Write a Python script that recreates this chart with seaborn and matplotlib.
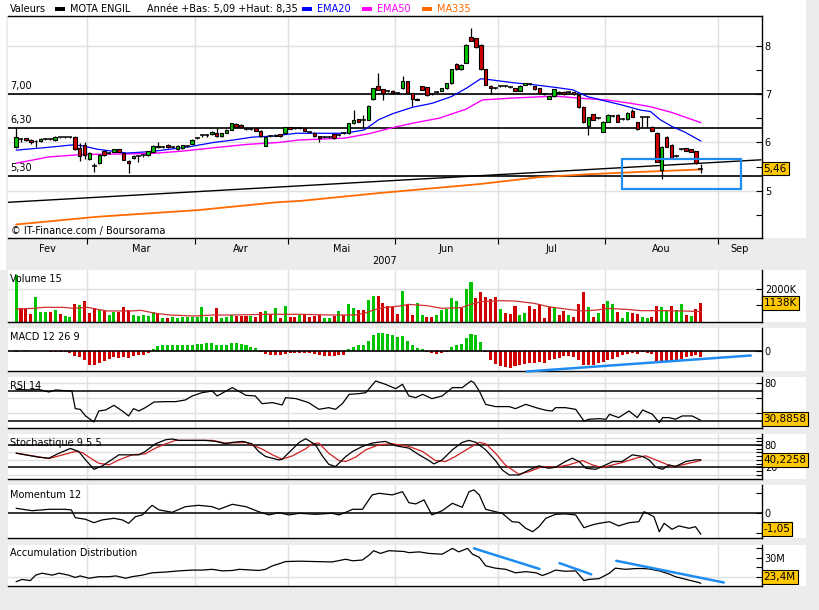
import numpy as np
import pandas as pd
import seaborn as sns
import matplotlib.pyplot as plt
from matplotlib.patches import Rectangle

# ---- values (MOTA ENGIL, daily, 8 Feb - 28 Aug 2007) ----
opens = [5.90, 6.07, 6.09, 6.05, 6.02, 6.02, 6.08, 6.07, 6.05, 6.11,
         6.11, 6.11, 6.12, 5.88, 5.95, 5.65, 5.51, 5.57, 5.82, 5.79,
         5.81, 5.86, 5.79, 5.62, 5.67, 5.71, 5.73, 5.73, 5.81, 5.93,
         5.91, 5.95, 5.90, 5.86, 5.88, 5.93, 5.97, 6.09, 6.15, 6.15,
         6.17, 6.19, 6.13, 6.20, 6.26, 6.38, 6.37, 6.27, 6.27, 6.29,
         6.24, 5.93, 6.14, 6.14, 6.17, 6.19, 6.31, 6.29, 6.29, 6.29,
         6.22, 6.20, 6.13, 6.12, 6.12, 6.17, 6.15, 6.19, 6.19, 6.40,
         6.48, 6.47, 6.47, 6.89, 7.17, 7.10, 7.07, 7.07, 7.02, 7.12,
         7.27, 7.02, 6.88, 7.16, 7.14, 7.00, 7.05, 7.07, 7.12, 7.23,
         7.63, 7.52, 7.65, 8.18, 8.16, 8.02, 7.52, 7.17, 7.12, 7.16,
         7.16, 7.14, 7.12, 7.07, 7.19, 7.21, 7.16, 7.12, 7.00, 6.91,
         6.96, 7.05, 7.05, 7.04, 7.04, 6.98, 6.74, 6.34, 6.58, 6.51,
         6.22, 6.43, 6.55, 6.57, 6.48, 6.48, 6.65, 6.42, 6.52, 6.52,
         6.33, 6.20, 5.43, 6.12, 5.95, 5.72, 5.86, 5.88, 5.86, 5.82,
         5.46]
highs = [6.31, 6.10, 6.10, 6.07, 6.05, 6.09, 6.10, 6.09, 6.13, 6.12,
         6.12, 6.12, 6.13, 5.98, 6.01, 5.80, 5.58, 5.77, 5.84, 5.81,
         5.87, 5.87, 5.80, 5.63, 5.73, 5.74, 5.75, 5.83, 5.94, 6.00,
         5.93, 5.96, 5.92, 5.94, 5.95, 5.95, 6.07, 6.11, 6.17, 6.17,
         6.23, 6.29, 6.20, 6.27, 6.41, 6.40, 6.38, 6.29, 6.29, 6.30,
         6.25, 6.13, 6.16, 6.17, 6.18, 6.32, 6.33, 6.31, 6.31, 6.30,
         6.24, 6.21, 6.14, 6.14, 6.14, 6.18, 6.17, 6.21, 6.41, 6.67,
         6.49, 6.57, 6.77, 7.13, 7.43, 7.11, 7.09, 7.08, 7.04, 7.38,
         7.28, 7.03, 6.93, 7.17, 7.15, 7.02, 7.07, 7.13, 7.24, 7.53,
         7.64, 7.62, 8.03, 8.37, 8.17, 8.03, 7.53, 7.18, 7.14, 7.18,
         7.18, 7.16, 7.13, 7.18, 7.24, 7.23, 7.17, 7.13, 7.02, 6.97,
         7.11, 7.06, 7.06, 7.06, 7.05, 6.99, 6.75, 6.53, 6.59, 6.53,
         6.44, 6.58, 6.57, 6.58, 6.50, 6.63, 6.70, 6.43, 6.55, 6.54,
         6.34, 6.21, 5.92, 6.13, 5.96, 5.74, 5.88, 5.89, 5.87, 5.83,
         5.55]
lows = [5.89, 6.01, 6.03, 5.97, 5.91, 6.00, 6.06, 6.05, 6.04, 6.10,
        6.10, 6.10, 5.84, 5.61, 5.65, 5.64, 5.39, 5.55, 5.72, 5.77,
        5.80, 5.80, 5.63, 5.36, 5.66, 5.60, 5.70, 5.72, 5.80, 5.89,
        5.89, 5.89, 5.88, 5.85, 5.87, 5.91, 5.96, 6.07, 6.12, 6.12,
        6.16, 6.11, 6.12, 6.19, 6.25, 6.32, 6.30, 6.25, 6.25, 6.23,
        6.12, 5.92, 6.12, 6.13, 6.12, 6.18, 6.27, 6.27, 6.27, 6.23,
        6.20, 6.12, 6.00, 6.10, 6.10, 6.08, 6.13, 6.17, 6.18, 6.39,
        6.42, 6.33, 6.46, 6.88, 7.08, 6.88, 7.05, 7.01, 7.00, 7.11,
        7.01, 6.76, 6.87, 7.08, 6.97, 6.98, 7.03, 7.06, 7.11, 7.22,
        7.51, 7.51, 7.64, 8.10, 7.96, 7.51, 7.18, 7.00, 7.10, 7.14,
        7.14, 7.12, 7.06, 7.06, 7.18, 7.19, 7.09, 7.01, 6.98, 6.90,
        6.95, 7.01, 6.99, 7.02, 6.99, 6.72, 6.41, 6.15, 6.46, 6.49,
        6.21, 6.42, 6.53, 6.42, 6.46, 6.47, 6.52, 6.26, 6.33, 6.33,
        6.23, 5.59, 5.24, 5.90, 5.66, 5.70, 5.84, 5.82, 5.80, 5.56,
        5.36]
closes = [6.11, 6.07, 6.05, 6.01, 6.03, 6.07, 6.08, 6.07, 6.12, 6.11,
          6.11, 6.11, 5.86, 5.71, 5.74, 5.78, 5.51, 5.75, 5.74, 5.79,
          5.86, 5.81, 5.64, 5.57, 5.72, 5.71, 5.73, 5.82, 5.93, 5.90,
          5.91, 5.90, 5.90, 5.93, 5.94, 5.93, 6.06, 6.09, 6.15, 6.15,
          6.22, 6.13, 6.19, 6.26, 6.40, 6.33, 6.31, 6.27, 6.27, 6.24,
          6.13, 6.12, 6.14, 6.16, 6.13, 6.31, 6.28, 6.29, 6.29, 6.24,
          6.22, 6.13, 6.09, 6.12, 6.12, 6.09, 6.15, 6.19, 6.40, 6.47,
          6.43, 6.47, 6.76, 7.12, 7.09, 7.02, 7.07, 7.02, 7.02, 7.27,
          7.02, 6.91, 6.91, 7.09, 6.98, 7.00, 7.05, 7.12, 7.23, 7.52,
          7.52, 7.61, 8.02, 8.11, 7.97, 7.52, 7.19, 7.12, 7.12, 7.16,
          7.16, 7.14, 7.07, 7.17, 7.23, 7.21, 7.10, 7.02, 7.00, 6.96,
          7.10, 7.02, 7.00, 7.04, 7.00, 6.73, 6.42, 6.52, 6.47, 6.51,
          6.43, 6.57, 6.55, 6.43, 6.48, 6.62, 6.53, 6.27, 6.52, 6.52,
          6.24, 5.60, 5.91, 5.91, 5.67, 5.72, 5.86, 5.83, 5.81, 5.57,
          5.46]

volume_k = [2870, 828, 768, 465, 1495, 586, 586, 586, 727, 465,
            384, 283, 1070, 1030, 1273, 525, 828, 727, 667, 424,
            626, 586, 889, 727, 424, 384, 424, 364, 586, 465,
            263, 263, 283, 263, 283, 323, 323, 323, 929, 323,
            323, 869, 263, 323, 424, 384, 384, 384, 384, 323,
            586, 667, 485, 828, 222, 970, 283, 283, 424, 424,
            283, 384, 424, 263, 263, 384, 667, 424, 1070, 869,
            727, 727, 1333, 1575, 1575, 1131, 970, 889, 485, 1879,
            1070, 424, 1172, 424, 283, 283, 424, 727, 788, 1475,
            1273, 869, 2000, 2404, 1475, 1798, 1495, 1374, 1495, 788,
            525, 465, 970, 424, 525, 970, 768, 1070, 263, 929,
            929, 424, 667, 424, 323, 1070, 1838, 889, 323, 525,
            1070, 1273, 1070, 586, 263, 586, 525, 465, 283, 263,
            323, 970, 889, 727, 970, 727, 1070, 424, 384, 768,
            1138]
volume_dir = ("grrrgggrgr" "ggrgrrrgrg" "grrrgggggr" "grgggggggg"
              "grgggrrrgr" "rgrgrgrrgr" "rrrggrgrgg" "rrggrrrrrg"
              "rrggrrggg" "ggrggrrrrr" "grrrggrrrr" "rgrrgrrrgr"
              "grggrggrrg" "grrggrggrg" "rr")
vol_ma_x = [0, 3.7, 5.7, 9.7, 11.6, 14.6, 16.6, 18.6, 23.5, 25.5, 28.5, 31.5, 36.4, 40.4,
            44.4, 51.3, 58.3, 64.2, 69.2, 71.2, 73.1, 75.1, 79.1, 80.1, 84.0, 87.0, 91.0,
            93.0, 95.0, 98.9, 101.9, 105.9, 108.8, 112.8, 115.8, 118.8, 120.8, 124.7,
            127.7, 132.7, 136.6, 140]
vol_ma_y = [788, 828, 889, 889, 828, 889, 768, 667, 667, 707, 525, 424, 364, 424,
            424, 465, 465, 424, 424, 525, 727, 869, 990, 1070, 990, 828, 869,
            1070, 1232, 1293, 1273, 1131, 929, 768, 667, 727, 828, 768,
            687, 687, 667, 626]

macd_hist = [-1, 0, 1.3, 0, 0, 0, 0, -1, -1, -1,
             -1, -2, -5, -6, -9.3, -13.7, -14.3, -11.7, -10.3, -7.7,
             -6, -6.7, -6, -7, -5, -4.3, -3.7, -1.7, 2.3, 4.7,
             5.7, 5.7, 5.7, 5.7, 5.7, 5.7, 6.3, 6.7, 7.3, 8,
             8, 6.3, 6.3, 6.3, 8.3, 8.3, 7.3, 5.7, 4, 3.3,
             -1, -2.7, -3.7, -3.7, -4.3, -2.7, -1.7, -1.7, -1.7, -1.7,
             -2, -2.7, -4.3, -5, -5, -5, -4.3, -3.7, 1.7, 4,
             5.7, 5.7, 9.7, 15.7, 18.3, 18.3, 17.3, 15.7, 14, 15,
             9.7, 5.7, 3, 1.7, -1, -1.7, -2.7, -1.7, -1, 4,
             5.7, 7.3, 13, 16.7, 15.7, 9, -1, -8.7, -13.3, -15,
             -16, -17, -15, -13.7, -12.7, -11.7, -11.7, -11, -11.7, -9.3,
             -7.7, -6.7, -5, -5, -6, -9.3, -13.7, -14.3, -14.3, -12,
             -11, -8.7, -7.7, -6, -4.3, -2.7, -1.7, -2.7, -1, -1.7,
             -2.7, -10, -11, -11, -11, -9.3, -7.7, -6, -5, -4.3,
             -6]

ema20_x = [0, 6.7, 11.6, 13.6, 16.6, 22.6, 27.5, 31.5, 35.4, 40.4, 44.4, 48.3, 52.3, 57.3,
           60.2, 67.2, 71.2, 74.1, 77.1, 81.1, 85.0, 89.0, 92.0, 95.0, 96.9, 101.4, 105.5,
           110.3, 113.8, 116.8, 120.8, 123.7, 127.7, 129.7, 131.7, 134.1, 136.6, 140]
ema20_y = [5.84, 5.90, 5.95, 5.93, 5.86, 5.78, 5.81, 5.86, 5.91, 6.00, 6.05, 6.11, 6.13, 6.19,
           6.19, 6.19, 6.26, 6.47, 6.60, 6.73, 6.81, 6.95, 7.12, 7.32, 7.30, 7.24, 7.20,
           7.14, 7.09, 6.95, 6.85, 6.78, 6.67, 6.64, 6.47, 6.33, 6.22, 6.03]
ema50_x = [0, 6.7, 13.6, 20.6, 27.5, 34.0, 40.4, 47.3, 53.7, 57.8, 67.2, 72.1, 77.1, 81.1,
           86.4, 92.0, 95.3, 101.4, 110.3, 114.8, 120.8, 125.7, 129.7, 134.1, 140]
ema50_y = [5.57, 5.70, 5.75, 5.76, 5.77, 5.82, 5.89, 5.96, 6.00, 6.05, 6.09, 6.18, 6.31, 6.40,
           6.50, 6.69, 6.88, 6.92, 6.96, 6.92, 6.88, 6.81, 6.74, 6.62, 6.41]
ma335_x = [0, 16.6, 37.4, 53.3, 58.3, 74.1, 95.0, 106.9, 116.8, 127.7, 140]
ma335_y = [4.30, 4.46, 4.60, 4.76, 4.79, 4.95, 5.14, 5.28, 5.34, 5.39, 5.44]

trend_x = [-1.6, 152.3]
trend_y = [4.76, 5.64]
levels = [7.00, 6.30, 5.30]
level_labels = ['7,00', '6,30', '5,30']
box_x = [123.8, 148.2]
box_y = [5.035, 5.66]

rsi_x = [0, 2.6, 4.6, 6.7, 8.1, 10.7, 11.4, 12.1, 13.1, 14.2, 15.9, 16.9, 18.3, 20.0, 21.7,
         23.0, 24.0, 25.1, 26.4, 28.2, 30.6, 32.6, 34.6, 36.0, 38.0, 40.1, 41.1, 44.2, 47.0,
         48.9, 50.3, 52.4, 54.4, 55.1, 57.2, 59.8, 61.9, 63.9, 65.3, 66.7, 68.1, 70.1, 71.5,
         73.5, 75.5, 77.6, 79.0, 80.3, 81.7, 83.1, 85.0, 87.1, 89.2, 91.2, 93.0, 93.6, 94.7,
         96.0, 98.0, 100.8, 102.1, 104.2, 106.3, 108.3, 109.6, 110.3, 112.3, 114.4, 116.1,
         117.1, 119.2, 120.6, 121.3, 123.2, 125.3, 127.0, 128.1, 130.1, 131.5, 132.2, 133.5,
         134.8, 136.2, 138.2, 140]
rsi_y = [72.0, 71.2, 72.0, 68.5, 71.2, 69.8, 69.8, 46.4, 45.5, 36.7, 28.7, 43.3, 44.6, 50.8, 43.3,
         36.7, 46.4, 43.3, 47.7, 55.2, 55.7, 55.7, 57.9, 63.2, 67.6, 69.8, 63.2, 74.3, 64.1,
         63.2, 53.0, 54.4, 51.3, 61.0, 59.7, 54.4, 45.5, 47.7, 45.5, 53.0, 65.4, 66.3, 67.6,
         83.1, 78.7, 72.9, 78.7, 63.2, 61.0, 65.4, 59.7, 63.2, 74.3, 74.3, 83.1, 80.9, 69.8,
         52.1, 49.1, 49.1, 46.4, 52.1, 47.7, 44.2, 43.3, 47.7, 47.7, 45.5, 30.0,
         32.3, 33.1, 32.3, 38.9, 34.5, 43.3, 34.5, 44.6, 38.9, 27.8, 34.5, 34.5,
         32.3, 36.7, 36.7, 30.9]

stoch_k_x = [0, 1.9, 4.6, 6.7, 8.8, 11.1, 12.8, 14.2, 15.9, 17.6, 19.7, 21.0, 23.0, 25.1, 26.4,
             28.5, 30.6, 31.9, 33.3, 36.0, 38.7, 40.8, 42.8, 44.2, 46.3, 48.2, 49.6, 51.0, 53.7,
             54.4, 55.8, 57.9, 59.2, 61.2, 62.6, 63.9, 65.3, 67.4, 68.8, 70.8, 72.8, 75.5, 77.6,
             80.3, 82.4, 84.4, 85.4, 87.1, 89.2, 91.2, 92.6, 94.0, 96.0, 98.0, 99.4, 100.8,
             102.8, 104.9, 106.9, 108.9, 110.3, 112.3, 113.7, 115.1, 116.5, 118.5, 119.8, 122.0,
             123.9, 126.0, 128.1, 129.4, 130.8, 132.2, 133.5, 134.8, 136.9, 138.9, 140]
stoch_k_y = [58.2, 53.6, 47.3, 44.5, 58.2, 70.9, 62.7, 40.0, 14.5, 23.6, 41.8, 53.6, 53.6, 53.6, 62.7,
             83.6, 94.5, 96.4, 92.7, 92.7, 92.7, 90.0, 83.6, 87.3, 90.0, 83.6, 62.7, 49.1, 40.0,
             41.8, 60.0, 87.3, 97.3, 80.9, 50.9, 28.2, 21.8, 49.1, 62.7, 76.4, 85.5, 90.0, 78.2,
             71.8, 53.6, 38.2, 29.1, 40.0, 67.3, 87.3, 92.7, 87.3, 67.3, 38.2, 12.7, -0.9,
             -0.9, 12.7, 23.6, 17.3, 20.0, 35.5, 44.5, 35.5, 17.3, 14.5, 21.8, 35.5,
             35.5, 53.6, 49.1, 40.0, 20.0, 14.5, 26.4, 21.8, 35.5, 40.0, 40.2]
stoch_d_x = [0, 3.3, 6.7, 8.8, 12.1, 13.5, 14.9, 16.9, 19.0, 21.0, 23.7, 26.4, 28.5, 30.6, 32.6,
             37.3, 40.1, 42.8, 47.0, 50.3, 52.4, 54.4, 56.5, 59.2, 60.5, 61.9, 63.9, 66.0, 67.4,
             69.4, 71.5, 74.2, 76.9, 80.3, 83.1, 85.7, 87.8, 89.8, 92.6, 94.7, 96.0, 98.0, 100.0,
             102.8, 104.9, 107.6, 110.3, 113.0, 115.8, 117.8, 119.8, 122.0, 123.9, 126.7, 128.7,
             130.8, 134.1, 136.2, 138.2, 140]
stoch_d_y = [58.2, 50.9, 43.6, 50.9, 62.7, 60.0, 47.3, 30.9, 26.4, 40.0, 53.6, 56.4, 71.8, 83.6, 92.7,
             92.7, 92.7, 85.5, 87.3, 69.1, 53.6, 41.8, 50.9, 70.0, 83.6, 85.5, 58.2, 38.2, 35.5,
             47.3, 67.3, 80.9, 83.6, 76.4, 62.7, 38.2, 35.5, 49.1, 71.8, 87.3, 83.6, 58.2, 26.4,
             0.9, 8.2, 21.8, 20.0, 26.4, 38.2, 26.4, 19.1, 26.4, 32.7, 44.5, 50.9,
             40.0, 21.8, 26.4, 32.7, 38.2]

mom_x = [0, 3.3, 6.7, 10.0, 11.3, 12.1, 14.2, 15.9, 17.6, 20.0, 21.7, 23.0, 24.4, 25.8, 27.8,
         29.2, 31.9, 34.6, 37.3, 40.1, 41.5, 44.2, 47.0, 49.6, 51.7, 53.7, 55.8, 57.9, 61.2,
         64.6, 66.0, 67.4, 68.8, 70.8, 72.8, 74.2, 76.9, 79.0, 80.3, 81.7, 83.4, 85.0, 87.1,
         89.2, 91.2, 92.6, 93.6, 94.7, 96.0, 98.0, 99.4, 101.4, 102.8, 104.2, 105.6, 106.9,
         108.3, 110.3, 112.3, 114.4, 116.1, 117.8, 119.2, 121.3, 123.2, 125.3, 127.3, 128.4,
         130.4, 131.5, 132.5, 134.1, 135.5, 137.6, 138.9, 140]
mom_y = [0.25, 0.13, 0.20, 0.20, 0.17, -0.22, -0.30, -0.47, -0.33, -0.25, -0.33, -0.50, -0.17, -0.08, 0.40,
         0.17, 0.05, 0.33, 0.40, 0.33, 0.20, 0.45, 0.33, 0.08, -0.08, 0.03, -0.08, 0.0, -0.05,
         0.0, -0.08, 0.05, 0.20, 0.20, 0.92, 1.0, 0.92, 1.08, 0.53, 0.47, 0.67, -0.08, 0.13,
         0.50, 0.30, 1.08, 1.17, 0.92, 0.20, 0.08, 0.0, -0.42, -0.45, -0.75, -0.92, -0.67,
         -0.25, -0.05, -0.03, -0.08, -0.72, -0.58, -0.50, -0.42, -0.63, -0.47, -0.42, 0.08,
         -0.17, -0.92, -0.50, -0.80, -0.63, -0.75, -0.67, -1.05]

ad_x = [0, 1.2, 2.9, 4.0, 5.3, 7.4, 8.8, 10.7, 12.1, 13.1, 14.9, 16.9, 19.0, 20.4, 22.4, 23.7,
        25.8, 27.8, 30.6, 33.3, 36.0, 38.0, 40.1, 42.1, 44.2, 45.6, 49.6, 51.0, 52.4, 53.7,
        55.1, 57.9, 61.2, 64.6, 67.4, 68.8, 70.8, 72.2, 73.1, 74.5, 76.2, 79.3, 80.3, 82.4,
        84.4, 87.1, 89.2, 90.5, 92.3, 93.3, 94.7, 96.0, 98.0, 100.1, 102.1, 104.2, 106.3,
        107.6, 108.9, 110.3, 112.3, 114.4, 116.1, 117.1, 119.2, 121.3, 122.5, 124.6, 126.7,
        128.1, 129.4, 131.5, 133.5, 134.8, 137.6, 139.6, 140]
ad_y = [23.8, 24.4, 24.1, 25.5, 26.0, 25.5, 26.0, 25.5, 24.9, 25.3, 24.7, 25.1, 25.1, 25.3, 24.7, 25.1,
        25.5, 26.1, 26.3, 26.6, 26.8, 26.8, 27.0, 26.6, 26.7, 27.0, 26.7, 27.0, 27.9, 28.4,
        29.0, 29.1, 29.0, 28.9, 29.6, 29.2, 29.4, 30.7, 31.8, 31.1, 31.8, 31.6, 31.3, 31.5,
        31.1, 30.9, 32.4, 31.5, 32.4, 30.9, 30.1, 27.9, 27.3, 27.0, 26.1, 26.4, 26.1,
        25.4, 26.0, 26.8, 26.5, 26.6, 24.1, 24.4, 24.6, 26.0, 27.3, 27.0, 27.2,
        27.2, 27.1, 26.6, 25.8, 25.1, 24.2, 23.6, 23.4]

macd_trend_x = [104.4, 150.2]
macd_trend_y = [-20.5, -4.5]
ad_trend_x = [[93.6, 107.0], [111.1, 117.6], [122.7, 144.7]]
ad_trend_y = [[32.4, 27.1], [28.6, 25.7], [29.2, 23.6]]

month_names = ['Fev', 'Mar', 'Avr', 'Mai', 'Jun', 'Jul', 'Aou', 'Sep']
holidays = ['2007-04-06', '2007-04-09', '2007-05-01']

# ---- trading calendar -> month separators ----
days = pd.bdate_range('2007-02-08', '2007-09-28')
days = days[~days.isin(pd.to_datetime(holidays))]
XLIM = (-1.66, 152.5)
mon = np.asarray(days.month)
month_edges = [i + 0.5 for i in np.where(mon[1:] != mon[:-1])[0] if i + 0.5 < XLIM[1]]
bounds = [XLIM[0]] + month_edges + [XLIM[1]]
month_mid = [(a + b) / 2 for a, b in zip(bounds[:-1], bounds[1:])]

GREEN = '#00c400'
RED = '#d00000'
GRID = '#e0e0e0'
BLUE_MARK = '#1e8cf0'

sns.set_style('white', {'axes.edgecolor': 'black', 'xtick.color': 'black',
                        'ytick.color': 'black', 'text.color': 'black',
                        'axes.labelcolor': 'black'})
plt.rcParams['font.family'] = ['DejaVu Sans']

W, H = 819, 610
fig = plt.figure(figsize=(W / 100, H / 100), dpi=100, facecolor='#ececec')


def white_box(x0, y0, x1, y1):
    fig.add_artist(Rectangle((x0 / W, 1 - y1 / H), (x1 - x0) / W, (y1 - y0) / H,
                             transform=fig.transFigure, facecolor='white',
                             edgecolor='none', zorder=-5))


white_box(0, 0, 806, 16)
white_box(0, 0, 6, 270)


def panel(top, bottom):
    white_box(762, top, 806, bottom)
    return fig.add_axes([8 / W, 1 - bottom / H, 754 / W, (bottom - top) / H])


def style(ax, ylim, top_spine=False):
    ax.set_facecolor('white')
    ax.set_xlim(XLIM)
    ax.set_ylim(ylim)
    ax.spines['left'].set_visible(False)
    ax.spines['top'].set_visible(top_spine)
    for s in ['right', 'bottom', 'top']:
        ax.spines[s].set_color('black')
        ax.spines[s].set_linewidth(1.0)
    for e in month_edges:
        ax.axvline(e, color=GRID, lw=1, zorder=0)
    ax.yaxis.tick_right()
    ax.tick_params(axis='y', which='both', direction='in', length=4, width=0.8,
                   labelsize=7, pad=2, right=True, left=False)
    ax.tick_params(axis='x', which='both', bottom=False, labelbottom=False)


def finish(ax):
    ax.set_xlabel('')
    ax.set_ylabel('')


def value_box(ax, val, text, margin_px=9):
    lo, hi = ax.get_ylim()
    h_px = ax.get_position().height * H
    m = margin_px * (hi - lo) / h_px
    y = min(max(val, lo + m), hi - m)
    ax.text(1.002, y, text, transform=ax.get_yaxis_transform(), ha='left', va='center',
            fontsize=7.5, zorder=10, clip_on=False,
            bbox=dict(boxstyle='square,pad=0.18', fc='#ffc800', ec='black', lw=0.8))


def line(ax, xs, ys, color, lw=0.9, z=3):
    sns.lineplot(x=xs, y=ys, ax=ax, color=color, linewidth=lw, estimator=None,
                 errorbar=None, legend=False, zorder=z)


# ---- main price panel ----
ax = panel(16, 238)
style(ax, (4.02, 8.62), top_spine=True)
for g in [5, 6, 7, 8]:
    ax.axhline(g, color=GRID, lw=1, zorder=0)
for lv in levels:
    ax.axhline(lv, color='black', lw=1.2, zorder=1)
line(ax, trend_x, trend_y, 'black', lw=1.0, z=2)
line(ax, ma335_x, ma335_y, '#ff6a00', lw=1.3, z=2)
line(ax, ema50_x, ema50_y, '#ff00ff', lw=1.0, z=2)
line(ax, ema20_x, ema20_y, '#0000ff', lw=0.9, z=2)

xi = np.arange(len(closes))
o, h, l, c = (np.array(v) for v in (opens, highs, lows, closes))
up = c > o + 0.004
dn = c < o - 0.004
flat = ~(up | dn)
ax.vlines(xi, l, h, color='black', lw=0.9, zorder=4)
ax.bar(xi[up], (c - o)[up], bottom=o[up], width=0.72, color=GREEN,
       edgecolor='black', linewidth=0.8, zorder=5)
ax.bar(xi[dn], (o - c)[dn], bottom=c[dn], width=0.72, color=RED,
       edgecolor='black', linewidth=0.8, zorder=5)
ax.hlines(c[flat], xi[flat] - 0.5, xi[flat] + 0.5, color='black', lw=1.1, zorder=5)
ax.add_patch(Rectangle((box_x[0], box_y[0]), box_x[1] - box_x[0], box_y[1] - box_y[0],
                       fill=False, edgecolor=BLUE_MARK, lw=1.6, zorder=6))
finish(ax)
ax.set_yticks([5, 6, 7, 8])
ax.set_yticklabels(['5', '6', '7', '8'])
ax.set_yticks([4.5, 5.5, 6.5, 7.5], minor=True)
ax.set_xticks(month_edges)
ax.set_xticklabels([''] * len(month_edges))
ax.set_xticks(month_mid, minor=True)
ax.set_xticklabels(month_names, minor=True)
ax.tick_params(axis='x', which='major', bottom=True, direction='out', length=4, width=0.8)
ax.tick_params(axis='x', which='minor', bottom=False, labelbottom=True, length=0, pad=4,
               labelsize=7)
for lv, lab in zip(levels, level_labels):
    ax.annotate(lab, (0.003, lv), xycoords=('axes fraction', 'data'), xytext=(0, 2),
                textcoords='offset points', fontsize=7, va='bottom', ha='left')
value_box(ax, closes[-1], '5,46')

# ---- volume ----
ax = panel(270, 322)
style(ax, (0, 3150))
ax.axhline(2000, color=GRID, lw=1, zorder=0)
vcol = [GREEN if d == 'g' else RED for d in volume_dir]
ax.bar(np.arange(len(volume_k)), volume_k, width=0.62, color=vcol, linewidth=0, zorder=2)
line(ax, vol_ma_x, vol_ma_y, '#d03030', lw=0.9, z=3)
finish(ax)
ax.set_yticks([1000, 2000])
ax.set_yticklabels(['', '2000K'])
value_box(ax, volume_k[-1], '1138K')

# ---- MACD histogram ----
ax = panel(328, 371)
style(ax, (-20, 23))
mh = np.array(macd_hist)
ax.bar(np.arange(len(mh)), mh, width=0.62, color=np.where(mh >= 0, GREEN, RED),
       linewidth=0, zorder=2)
ax.axhline(0, color='black', lw=1.2, zorder=3)
ax.plot(macd_trend_x, macd_trend_y, color=BLUE_MARK, lw=1.8, zorder=4, clip_on=False)
finish(ax)
ax.set_yticks([0])
ax.set_yticklabels(['0'])

# ---- RSI ----
ax = panel(377, 428)
style(ax, (20.7, 88.4))
for g in [40, 60, 80]:
    ax.axhline(g, color=GRID, lw=1, zorder=0)
for g in [30, 70]:
    ax.axhline(g, color='black', lw=1.1, zorder=1)
line(ax, rsi_x, rsi_y, 'black', lw=0.9)
finish(ax)
ax.set_yticks([40, 60, 80])
ax.set_yticklabels(['', '', '80'])
value_box(ax, rsi_y[-1], '30,8858')

# ---- Stochastic ----
ax = panel(434, 479)
style(ax, (-11.8, 110.0))
for g in [0, 40, 60, 100]:
    ax.axhline(g, color=GRID, lw=1, zorder=0)
for g in [20, 80]:
    ax.axhline(g, color='black', lw=1.1, zorder=1)
line(ax, stoch_d_x, stoch_d_y, '#d02020', lw=0.9)
line(ax, stoch_k_x, stoch_k_y, 'black', lw=0.9)
finish(ax)
ax.set_yticks([20, 80])
ax.set_yticklabels(['20', '80'])
ax.set_yticks([0, 10, 30, 40, 50, 60, 70, 90, 100], minor=True)
value_box(ax, stoch_k_y[-1], '40,2258')

# ---- Momentum ----
ax = panel(485, 538)
style(ax, (-1.235, 1.415))
ax.axhline(0, color='black', lw=1.1, zorder=1)
line(ax, mom_x, mom_y, 'black', lw=0.9)
finish(ax)
ax.set_yticks([-1, 0, 1])
ax.set_yticklabels(['', '0', ''])
value_box(ax, mom_y[-1], '-1,05')

# ---- Accumulation / Distribution ----
ax = panel(545, 586)
style(ax, (22.7, 33.27))
ax.axhline(25, color=GRID, lw=1, zorder=0)
line(ax, ad_x, ad_y, 'black', lw=0.9)
for tx, ty in zip(ad_trend_x, ad_trend_y):
    ax.plot(tx, ty, color=BLUE_MARK, lw=1.8, zorder=4)
finish(ax)
ax.set_yticks([25, 27.5, 30, 32.5])
ax.set_yticklabels(['', '', '30M', ''])
value_box(ax, ad_y[-1], '23,4M')

# ---- texts in pixel positions ----
def ftext(x, y, s, **kw):
    kw.setdefault('fontsize', 7)
    kw.setdefault('ha', 'left')
    fig.text(x / W, 1 - y / H, s, va='center', **kw)


ftext(10, 9, 'Valeurs')
ftext(70, 9, 'MOTA ENGIL')
ftext(147, 9, 'Année +Bas: 5,09 +Haut: 8,35')
ftext(317, 9, 'EMA20', color='#0000ff')
ftext(377, 9, 'EMA50', color='#ff00ff')
ftext(437, 9, 'MA335', color='#ff6a00')
for x0, col in [(55, 'black'), (302, '#0000ff'), (362, '#ff00ff'), (422, '#ff6a00')]:
    fig.add_artist(Rectangle((x0 / W, 1 - 11 / H), 10 / W, 4 / H, transform=fig.transFigure,
                             facecolor=col, edgecolor='none'))
ftext(385, 261, '2007', ha='center')
ftext(11, 231, '© IT-Finance.com / Boursorama')
ftext(10, 279, 'Volume 15')
ftext(10, 337, 'MACD 12 26 9')
ftext(10, 386, 'RSI 14')
ftext(10, 443, 'Stochastique 9 5 5')
ftext(10, 495, 'Momentum 12')
ftext(10, 553, 'Accumulation Distribution')

fig.savefig('out.png', dpi=100, facecolor=fig.get_facecolor())
